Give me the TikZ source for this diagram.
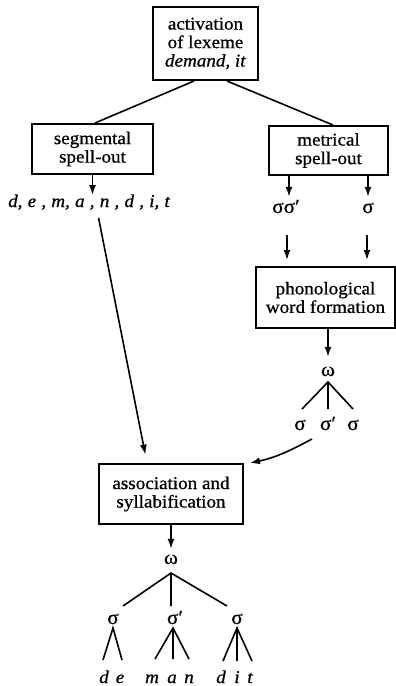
\documentclass[tikz,border=0pt]{standalone}
\usepackage{fontspec}
\setmainfont{Liberation Serif}[FakeStretch=1.06,FakeBold=0.8]
\usetikzlibrary{arrows.meta,calc}
\begin{document}
\begin{tikzpicture}[x=1pt,y=-1pt,
  every node/.style={font=\fontsize{18}{18.5}\selectfont},
  box/.style={draw, line width=2pt, align=center, inner sep=0pt},
  glyph/.style={inner sep=0pt, anchor=base, text height=8pt, text depth=0pt,
    font=\fontsize{20}{20}\selectfont},
  seg/.style={inner sep=0pt, anchor=base, font=\fontsize{18}{18.5}\selectfont\itshape},
  conn/.style={line width=1.6pt},
  arr/.style={conn, -{Latex[length=10pt,width=7pt]}},
]
\useasboundingbox (0,0) rectangle (396,686);

% processing stages
\node[box, minimum width=105pt, minimum height=73pt] (act) at (205.5,43.5)
  {activation\\of lexeme\\\textit{demand, it}};
\node[box, minimum width=121pt, minimum height=50pt] (segm) at (92.5,149)
  {segmental\\spell-out};
\node[box, minimum width=119pt, minimum height=49pt] (metr) at (328.5,150.5)
  {metrical\\spell-out};
\node[box, minimum width=139pt, minimum height=61pt] (phon) at (325.5,297.5)
  {phonological\\word formation};
\node[box, minimum width=144pt, minimum height=60pt] (assoc) at (171,494)
  {association and\\syllabification};

\draw[conn] ([xshift=-11.5pt]act.south) -- ([xshift=2.5pt]segm.north);
\draw[conn] ([xshift=21.5pt]act.south) -- ([xshift=4.5pt]metr.north);

% segmental spell-out
\node[seg] (segs) at (89,207) {\spaceskip=5.2pt\relax d, e , m, a , n , d , i, t};
\draw[arr, shorten >=12pt] (segm.south) -- (segm.south |- segs.base);
\draw[arr, shorten <=8pt, shorten >=8.5pt]
  ([xshift=8pt]segs.south) -- ([xshift=-24pt]assoc.north);

% metrical spell-out
\node[glyph] (ss) at (286,213) {σσ′};
\node[glyph] (s) at (368,213) {σ};
\coordinate (ssx) at ($(ss.north)+(3,0)$);
\draw[arr, shorten >=8pt] (metr.south -| ssx) -- (ssx);
\draw[arr, shorten >=8pt] (metr.south -| s) -- (s.north);
\coordinate (ssy) at ($(ss.south)+(1,0)$);
\coordinate (sy) at ($(s.south)+(-1,0)$);
\draw[arr, shorten <=22pt, shorten >=6pt] (ssy) -- (phon.north -| ssy);
\draw[arr, shorten <=22pt, shorten >=6pt] (sy) -- (phon.north -| sy);

% phonological word
\node[glyph] (w1) at (328,376) {ω};
\draw[arr, shorten >=11pt] (phon.south -| w1) -- (w1.north);
\coordinate (w1a) at (328,382);
\coordinate (w1l) at (302,409);
\coordinate (w1m) at (328,409);
\coordinate (w1r) at (353,409);
\draw[conn] (w1l) -- (w1a) -- (w1r) (w1a) -- (w1m);
\node[glyph] (p1) at (300,430) {σ};
\node[glyph] (p2) at (328,430) {σ′};
\node[glyph] (p3) at (353,430) {σ};

\coordinate (cstart) at (312,439);
\draw[arr] (cstart) to[out=208,in=12] ([xshift=6pt]assoc.north east);

% syllabified word
\node[glyph] (w2) at (171,564) {ω};
\draw[arr, shorten >=7pt] (assoc.south) -- (w2.north);
\coordinate (w2a) at (171,573);
\coordinate (w2l) at (123,606);
\coordinate (w2m) at (171,606);
\coordinate (w2r) at (227,606);
\draw[conn] (w2l) -- (w2a) -- (w2r) (w2a) -- (w2m);

\node[glyph] (q1) at (113,624) {σ};
\node[glyph] (q2) at (175,624) {σ′};
\node[glyph] (q3) at (237,624) {σ};

\node[seg] (l1) at (104,683) {d};
\node[seg] (l2) at (120,683) {e};
\node[seg] (l3) at (152,683) {m};
\node[seg] (l4) at (172,683) {a};
\node[seg] (l5) at (189,683) {n};
\node[seg] (l6) at (221,683) {d};
\node[seg] (l7) at (237,683) {i};
\node[seg] (l8) at (250,683) {t};

\coordinate (q1a) at (113,628);
\draw[conn] (103,660) -- (q1a) -- (122,660);
\coordinate (q2a) at (173,628);
\draw[conn] (155,659) -- (q2a) -- (189,659) (q2a) -- (173,659);
\coordinate (q3a) at (237,628);
\draw[conn] (223,661) -- (q3a) -- (252,661) (q3a) -- (237,661);
\end{tikzpicture}
\end{document}
